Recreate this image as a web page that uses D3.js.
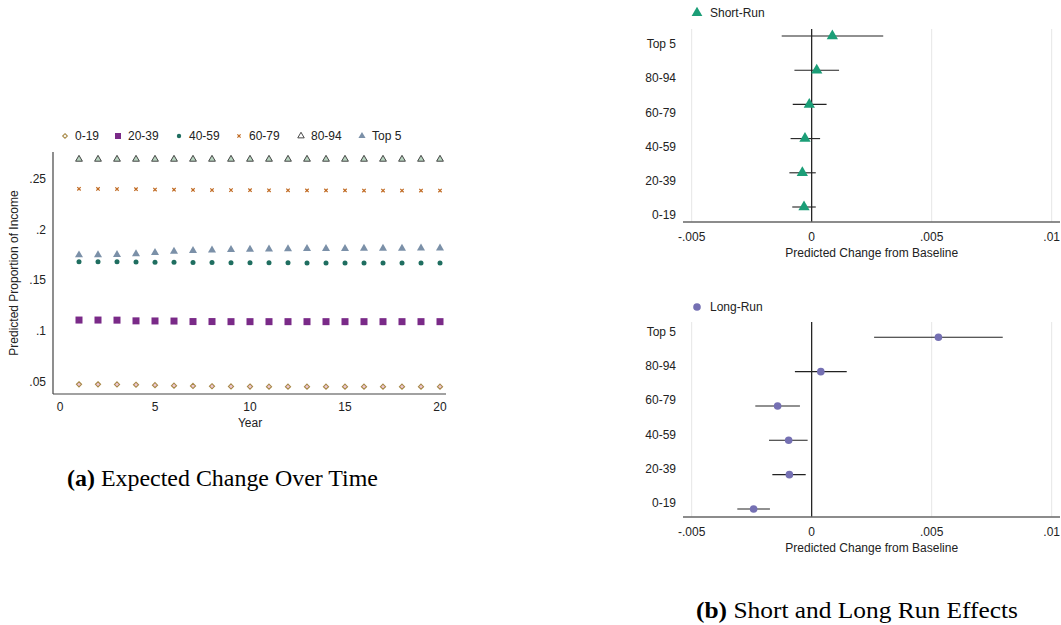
<!DOCTYPE html>
<html>
<head>
<meta charset="utf-8">
<script src="https://cdn.jsdelivr.net/npm/d3@7"></script>
<style>
  body { margin: 0; background: #fff; }
  svg { font-family: "Liberation Sans", Arial, sans-serif; }
  .caption { font-family: "Liberation Serif", "Times New Roman", serif; font-size: 23px; }
</style>
</head>
<body>
<script>
// ---- data: panel (a), predicted share of income by year ----
var years = [1,2,3,4,5,6,7,8,9,10,11,12,13,14,15,16,17,18,19,20];
var groups = ["0-19","20-39","40-59","60-79","80-94","Top 5"];

var share0_19  = [0.0472,0.0472,0.0471,0.0468,0.0464,0.0459,0.0456,0.0453,0.0451,0.0450,0.0449,0.0449,0.0449,0.0449,0.0449,0.0449,0.0449,0.0449,0.0449,0.0449];
var share20_39 = [0.1107,0.1107,0.1106,0.1099,0.1098,0.1097,0.1092,0.1092,0.1091,0.1091,0.1091,0.1091,0.1091,0.1091,0.1091,0.1091,0.1091,0.1091,0.1091,0.1091];
var share40_59 = [0.1683,0.1683,0.1683,0.1681,0.1679,0.1677,0.1676,0.1675,0.1674,0.1673,0.1672,0.1672,0.1671,0.1671,0.1671,0.1670,0.1670,0.1670,0.1670,0.1670];
var share60_79 = [0.2403,0.2402,0.2401,0.2399,0.2396,0.2394,0.2392,0.2391,0.2390,0.2389,0.2388,0.2388,0.2387,0.2387,0.2387,0.2386,0.2386,0.2386,0.2386,0.2386];
var share80_94 = [0.2695,0.2695,0.2695,0.2695,0.2695,0.2695,0.2695,0.2695,0.2695,0.2695,0.2695,0.2695,0.2695,0.2695,0.2695,0.2695,0.2695,0.2695,0.2695,0.2695];
var shareTop5  = [0.1749,0.1750,0.1752,0.1760,0.1772,0.1784,0.1792,0.1797,0.1802,0.1805,0.1808,0.1810,0.1811,0.1812,0.1813,0.1814,0.1815,0.1815,0.1816,0.1816];

var yearTicks = [0,5,10,15,20];
var shareTicks = [0.05,0.1,0.15,0.2,0.25];
var shareTickLabels = [".05",".1",".15",".2",".25"];

// ---- data: panel (b), effects with confidence intervals ----
var shortPoint = [-0.00032,-0.00039,-0.00028,-0.00010,0.00021,0.00086];
var shortLow   = [-0.00081,-0.00093,-0.00088,-0.00079,-0.00072,-0.00125];
var shortHigh  = [ 0.00017, 0.00017, 0.00035, 0.00062, 0.00114, 0.00298];

var longPoint = [-0.00242,-0.00093,-0.00096,-0.00142,0.00038,0.00528];
var longLow   = [-0.00310,-0.00164,-0.00178,-0.00235,-0.00070,0.00260];
var longHigh  = [-0.00174,-0.00025,-0.00017,-0.00049,0.00146,0.00796];

var effectTicks = [-0.005,0,0.005,0.01];
var effectTickLabels = ["-.005","0",".005",".01"];

var width = 1061, height = 625;
var svg = d3.select("body").append("svg")
    .attr("width", width)
    .attr("height", height);

// ================= panel (a) =================
var x = d3.scaleLinear().domain([0,20]).range([60,440]);
var y = d3.scaleLinear().domain([0.05,0.25]).range([381.5,179]);
var plotTop = 152, plotBottom = 394, plotLeft = 53, plotRight = 446;

var series = [
    {name:"0-19",  values:share0_19,  shape:"diamond"},
    {name:"20-39", values:share20_39, shape:"square"},
    {name:"40-59", values:share40_59, shape:"circle"},
    {name:"60-79", values:share60_79, shape:"cross"},
    {name:"80-94", values:share80_94, shape:"hollowTri"},
    {name:"Top 5", values:shareTop5,  shape:"triangle"}
];

function drawMarker(sel, shape, inLegend) {
    if (shape == "diamond") {
        sel.append("path")
            .attr("d", d3.symbol(d3.symbolDiamond2, inLegend ? 14 : 17)())
            .attr("fill", inLegend ? "#fff" : "#f0c8d8").attr("stroke", "#a88a48").attr("stroke-width", 1.1);
    } else if (shape == "square") {
        var s = inLegend ? 6 : 7;
        sel.append("rect").attr("x",-s/2).attr("y",-s/2).attr("width",s).attr("height",s)
            .attr("fill", "#7a2a88");
    } else if (shape == "circle") {
        sel.append("circle").attr("r", inLegend ? 2.2 : 2.5).attr("fill", "#1f6e60");
    } else if (shape == "cross") {
        sel.append("path")
            .attr("d", d3.symbol(d3.symbolX, inLegend ? 8 : 9)())
            .attr("fill","none").attr("stroke", "#c06a22").attr("stroke-width", 1.2);
    } else if (shape == "hollowTri") {
        sel.append("path")
            .attr("d", d3.symbol(d3.symbolTriangle, inLegend ? 18 : 20)())
            .attr("fill", inLegend ? "#fff" : "#b8d4c0").attr("stroke", "#333").attr("stroke-width", 0.9);
    } else if (shape == "triangle") {
        sel.append("path")
            .attr("d", d3.symbol(d3.symbolTriangle, inLegend ? 22 : 28)())
            .attr("fill", "#7b90a8");
    }
}

var pa = svg.append("g");

// legend
var legendX = [65,118,179,239,301,362];
series.forEach(function(s,i){
    var lg = pa.append("g").attr("transform","translate("+legendX[i]+",136)");
    drawMarker(lg, s.shape, true);
    lg.append("text").attr("x",10).attr("dy","0.35em")
        .attr("font-size",12).attr("fill","#222").text(s.name);
});

// axes lines
pa.append("line").attr("x1",plotLeft).attr("x2",plotLeft)
    .attr("y1",plotTop).attr("y2",plotBottom).attr("stroke","#444").attr("stroke-width",1.2);
pa.append("line").attr("x1",plotLeft).attr("x2",plotRight)
    .attr("y1",plotBottom).attr("y2",plotBottom).attr("stroke","#444").attr("stroke-width",1.2);

pa.selectAll(".ytick").data(shareTicks).enter().append("text")
    .attr("x",46).attr("y",function(d){return y(d);}).attr("dy","0.35em")
    .attr("text-anchor","end").attr("font-size",12).attr("fill","#222")
    .text(function(d,i){return shareTickLabels[i];});

pa.selectAll(".xtick").data(yearTicks).enter().append("text")
    .attr("x",function(d){return x(d);}).attr("y",407).attr("dy","0.35em")
    .attr("text-anchor","middle").attr("font-size",12).attr("fill","#222")
    .text(function(d){return d;});

pa.append("text").attr("x",250).attr("y",423).attr("dy","0.35em")
    .attr("text-anchor","middle").attr("font-size",12).attr("fill","#222").text("Year");

pa.append("text").attr("transform","translate(14,273) rotate(-90)").attr("dy","0.35em")
    .attr("text-anchor","middle").attr("font-size",12).attr("fill","#222")
    .text("Predicted Proportion of Income");

// markers
series.forEach(function(s){
    pa.append("g").selectAll("g")
        .data(years)
        .enter()
        .append("g")
        .attr("transform",function(d,i){return "translate("+x(d)+","+y(s.values[i])+")";})
        .each(function(){ drawMarker(d3.select(this), s.shape, false); });
});

pa.append("text").attr("class","caption").attr("x",67).attr("y",486)
    .attr("textLength",311).attr("lengthAdjust","spacingAndGlyphs")
    .html('<tspan font-weight="bold">(a)</tspan> Expected Change Over Time');

// ================= panel (b) =================
var xe = d3.scaleLinear().domain([0,0.005]).range([811.7,931.7]);

function effectPanel(opts) {
    var g = svg.append("g");
    var yc = d3.scalePoint().domain(groups).range([opts.bottomRow, opts.topRow]);

    // legend
    var lg = g.append("g").attr("transform","translate(697,"+opts.legendY+")");
    if (opts.shape == "triangle") {
        lg.append("path").attr("d", d3.symbol(d3.symbolTriangle, 50)()).attr("fill", opts.color);
    } else {
        lg.append("circle").attr("r",3.8).attr("fill",opts.color);
    }
    lg.append("text").attr("x",13).attr("dy","0.35em")
        .attr("font-size",12).attr("fill","#222").text(opts.title);

    // grid and zero line
    g.selectAll(".grid").data(effectTicks.filter(function(d){return d != 0;})).enter().append("line")
        .attr("x1",function(d){return xe(d);}).attr("x2",function(d){return xe(d);})
        .attr("y1",opts.top).attr("y2",opts.axisY)
        .attr("stroke","#e6e6e6").attr("stroke-width",1);
    g.append("line").attr("x1",xe(0)).attr("x2",xe(0))
        .attr("y1",opts.top).attr("y2",opts.axisY)
        .attr("stroke","#000").attr("stroke-width",1.1);

    // x axis
    g.append("line").attr("x1",683).attr("x2",1060)
        .attr("y1",opts.axisY).attr("y2",opts.axisY)
        .attr("stroke","#666").attr("stroke-width",1.6);
    g.selectAll(".xt").data(effectTicks).enter().append("text")
        .attr("x",function(d){return xe(d);}).attr("y",opts.axisY+15).attr("dy","0.35em")
        .attr("text-anchor","middle").attr("font-size",12).attr("fill","#222")
        .text(function(d,i){return effectTickLabels[i];});
    g.append("text").attr("x",871.7).attr("y",opts.axisY+31).attr("dy","0.35em")
        .attr("text-anchor","middle").attr("font-size",12).attr("fill","#222")
        .text("Predicted Change from Baseline");

    // category labels
    g.selectAll(".cat").data(groups).enter().append("text")
        .attr("x",676).attr("y",function(d){return yc(d)+opts.labelShift;}).attr("dy","0.35em")
        .attr("text-anchor","end").attr("font-size",12).attr("fill","#222")
        .text(function(d){return d;});

    // CIs
    g.selectAll(".ci").data(groups).enter().append("line")
        .attr("x1",function(d,i){return xe(opts.low[i]);})
        .attr("x2",function(d,i){return xe(opts.high[i]);})
        .attr("y1",function(d){return yc(d);}).attr("y2",function(d){return yc(d);})
        .attr("stroke","#222").attr("stroke-width",1.1);

    // points
    var pts = g.selectAll(".pt").data(groups).enter().append("g")
        .attr("transform",function(d,i){return "translate("+xe(opts.point[i])+","+yc(d)+")";});
    if (opts.shape == "triangle") {
        pts.append("path").attr("d", d3.symbol(d3.symbolTriangle, 55)()).attr("fill", opts.color);
    } else {
        pts.append("circle").attr("r",3.8).attr("fill",opts.color);
    }
}

effectPanel({
    title:"Short-Run", shape:"triangle", color:"#1b9e77",
    point:shortPoint, low:shortLow, high:shortHigh,
    legendY:13, top:29, axisY:222, topRow:36, bottomRow:207, labelShift:8
});
effectPanel({
    title:"Long-Run", shape:"circle", color:"#7570b3",
    point:longPoint, low:longLow, high:longHigh,
    legendY:307, top:322, axisY:517, topRow:337.3, bottomRow:509, labelShift:-6
});

svg.append("text").attr("class","caption").attr("x",696).attr("y",618)
    .attr("textLength",322).attr("lengthAdjust","spacingAndGlyphs")
    .html('<tspan font-weight="bold">(b)</tspan> Short and Long Run Effects');
</script>
</body>
</html>
